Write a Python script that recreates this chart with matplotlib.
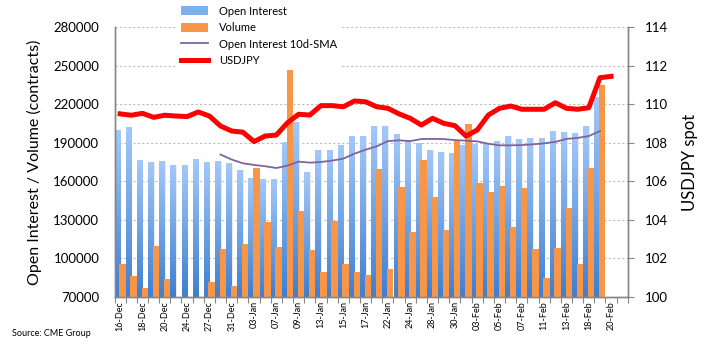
import numpy as np
import matplotlib
matplotlib.use("Agg")
import matplotlib.pyplot as plt
from matplotlib.colors import LinearSegmentedColormap
from matplotlib.patches import Patch
from matplotlib.lines import Line2D

plt.rcParams['font.family'] = ['Lato', 'DejaVu Sans']

nan = np.nan

# trading days shown on the category axis
dates = ['16-Dec', '17-Dec', '18-Dec', '19-Dec', '20-Dec', '23-Dec', '24-Dec', '26-Dec',
         '27-Dec', '30-Dec', '31-Dec', '02-Jan', '03-Jan', '06-Jan', '07-Jan', '08-Jan',
         '09-Jan', '10-Jan', '13-Jan', '14-Jan', '15-Jan', '16-Jan', '17-Jan', '21-Jan',
         '22-Jan', '23-Jan', '24-Jan', '27-Jan', '28-Jan', '29-Jan', '30-Jan', '31-Jan',
         '03-Feb', '04-Feb', '05-Feb', '06-Feb', '07-Feb', '10-Feb', '11-Feb', '12-Feb',
         '13-Feb', '14-Feb', '18-Feb', '19-Feb', '20-Feb']

open_interest = [200000, 202000, 176300, 174800, 175600, 172400, 172400, 177100, 174800, 175600,
                 174000, 168500, 162300, 161500, 161500, 190300, 205900, 167000, 184100, 184100,
                 188000, 195000, 195000, 202800, 202800, 196500, 191100, 189500, 184100, 182500,
                 181800, 188000, 188800, 189500, 191100, 195000, 192700, 193400, 193400, 198900,
                 198100, 197300, 202800, 225300, nan]

volume = [95400, 86100, 76800, 109400, 83800, nan, nan, nan, 81400, 107100,
          78300, 111000, 170100, 128100, 108700, 247100, 136700, 106300, 89200, 128900,
          95400, 89200, 86900, 169300, 91500, 155300, 120300, 176300, 147500, 121900,
          191100, 204300, 158400, 151400, 156100, 124200, 154500, 107100, 84500, 107900,
          139000, 95400, 170100, 235400, nan]

oi_sma = [nan, nan, nan, nan, nan, nan, nan, nan, nan, 180800,
          176900, 174000, 172700, 171700, 170300, 172200, 175300, 174500, 175000, 176100,
          177600, 181500, 184600, 187200, 191300, 191900, 191300, 192900, 193000, 192900,
          192100, 191600, 191100, 189200, 188000, 188000, 188200, 188800, 189500, 190700,
          193000, 193800, 195200, 199100, nan]

usdjpy = [109.50, 109.43, 109.53, 109.32, 109.43, 109.39, 109.36, 109.60, 109.39, 108.87,
          108.61, 108.55, 108.06, 108.35, 108.40, 109.04, 109.48, 109.44, 109.93, 109.93,
          109.87, 110.17, 110.13, 109.87, 109.79, 109.50, 109.27, 108.92, 109.27, 109.01,
          108.89, 108.35, 108.66, 109.44, 109.79, 109.91, 109.74, 109.74, 109.74, 110.08,
          109.79, 109.74, 109.82, 111.38, 111.45]

left_ticks = [70000, 100000, 130000, 160000, 190000, 220000, 250000, 280000]
right_ticks = [100, 102, 104, 106, 108, 110, 112, 114]

x = np.arange(len(dates))
grey = '#868686'

fig = plt.figure(figsize=(7.07, 3.52), dpi=100)
ax = fig.add_axes([0.162, 0.157, 0.726, 0.7655])
ax2 = ax.twinx()

# open interest: gradient bars with a faint shadow
blues = LinearSegmentedColormap.from_list('oi', ['#3f7fd1', '#a3c8f8'])
grad = np.linspace(0, 1, 64).reshape(-1, 1)
oi_w = 0.45
oi_x = x - 0.27
ax.bar(oi_x + 0.14, np.array(open_interest) - 70000, width=oi_w, bottom=70000,
       color='#ececec', zorder=1)
oi_bars = ax.bar(oi_x, np.array(open_interest) - 70000, width=oi_w, bottom=70000,
                 color='none', zorder=2)
for b in oi_bars:
    h = b.get_height()
    if not np.isfinite(h):
        continue
    x0 = b.get_x()
    im = ax.imshow(grad, cmap=blues, origin='lower', aspect='auto',
                   extent=[x0, x0 + oi_w, 70000, 70000 + h], zorder=2)
    im.set_clip_path(b)

ax.bar(x + 0.21, np.array(volume) - 70000, width=0.58, bottom=70000,
       color='#f79646', zorder=3)

ax.plot(x, oi_sma, color='#7f63a1', lw=1.3, zorder=4)
ax2.plot(x, usdjpy, color='#ff0000', lw=3.6, solid_joinstyle='round', zorder=5)

ax.set_xlim(-0.5, len(dates) + 0.5)
ax.set_ylim(70000, 280000)
ax2.set_ylim(100, 114)

# grid and axes styling
ax.set_yticks(left_ticks)
ax.set_yticklabels([str(v) for v in left_ticks], fontsize=9.5)
ax.yaxis.grid(True, color='#bdbdbd', linestyle=(0, (2, 2)), lw=0.8)
ax.set_axisbelow(True)
ax.tick_params(axis='y', length=0, pad=11)
ax2.set_yticks(right_ticks)
ax2.set_yticklabels([str(v) for v in right_ticks], fontsize=9.5)
ax2.tick_params(axis='y', length=4, width=0.8, color=grey, pad=8)

ax.set_xticks(x[::2])
ax.set_xticklabels(dates[::2], rotation=90, fontsize=6.5)
ax.set_xticks(np.arange(len(dates) + 2) - 0.5, minor=True)
ax.tick_params(axis='x', which='major', length=0, pad=3)
ax.tick_params(axis='x', which='minor', length=4, width=0.8, color=grey)

for a in (ax, ax2):
    a.spines['top'].set_visible(False)
    for s in ('left', 'right', 'bottom'):
        a.spines[s].set_color(grey)
        a.spines[s].set_linewidth(1.0)

ax.set_ylabel('Open Interest / Volume (contracts)', fontsize=11.5, labelpad=8)
ax2.set_ylabel('USDJPY spot', fontsize=12, labelpad=10)

handles = [Patch(facecolor='#7fb0ee', edgecolor='none'),
           Patch(facecolor='#f79646', edgecolor='none'),
           Line2D([], [], color='#7f63a1', lw=1.3),
           Line2D([], [], color='#ff0000', lw=3.6)]
labels = ['Open Interest', 'Volume', 'Open Interest 10d-SMA', 'USDJPY']
leg = ax2.legend(handles, labels, loc='upper left', bbox_to_anchor=(0.122, 1.095),
                 fontsize=8, frameon=True, facecolor='white', edgecolor='none',
                 framealpha=1, fancybox=False, handlelength=2.4, handleheight=0.9,
                 handletextpad=1.0, labelspacing=0.5, borderpad=0.35, borderaxespad=0)
leg.set_zorder(10)

fig.text(0.017, 0.045, 'Source: CME Group', fontsize=6.5)

fig.savefig('out.png', dpi=100)
